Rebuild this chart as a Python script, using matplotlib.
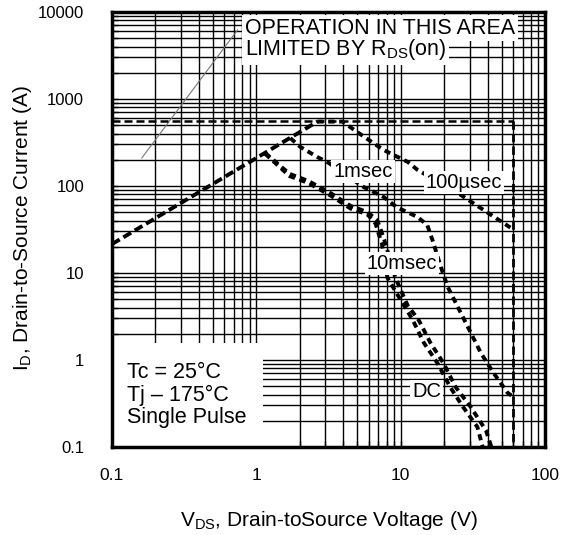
import matplotlib
matplotlib.use("Agg")
import matplotlib.pyplot as plt
from matplotlib.patches import Rectangle

plt.rcParams['font.family'] = ['Liberation Sans', 'DejaVu Sans']
plt.rcParams['mathtext.fontset'] = 'custom'
plt.rcParams['mathtext.rm'] = 'Liberation Sans'
plt.rcParams['mathtext.it'] = 'Liberation Sans'

# ---- data ----
x_ticks = [0.1, 1, 10, 100]
x_tick_labels = ["0.1", "1", "10", "100"]
y_ticks = [0.1, 1, 10, 100, 1000, 10000]
y_tick_labels = ["0.1", "1", "10", "100", "1000", "10000"]

# R_DS(on) limit line
rds_v = [0.1, 2.65]
rds_i = [21.5, 550]
# package / max current limit and breakdown voltage
imax_v = [0.1, 60]
imax_i = [560, 560]
bv_v = [60, 60]
bv_i = [560, 0.1]

us100_v = [2.65, 3.95, 5.0, 7.6, 11.2, 13.1, 24.9, 58, 60]
us100_i = [550, 550, 417, 260, 189, 153, 83, 33, 30]

ms1_v = [1.72, 2.02, 2.65, 3.1, 5.5, 7.6, 9.4, 13.1, 15.3, 16.6, 19, 21.2, 24.9, 29.2, 36, 44, 55, 60]
ms1_i = [355, 281, 215, 189, 98, 75, 57, 44, 35.5, 24, 11.7, 6.9, 4.06, 2.4, 1.2, 0.71, 0.42, 0.38]

ms10_v = [1.15, 1.7, 2.3, 3.3, 4.5, 5.9, 6.9, 7.3, 7.7, 9.2, 11.2, 13.3, 16.1, 19.8, 24, 30.5, 39, 42.5]
ms10_i = [240, 138, 114, 82, 59, 50, 40, 31, 24, 8.8, 4.2, 2.9, 1.57, 0.92, 0.49, 0.29, 0.155, 0.1]

dc_v = [1.15, 1.7, 2.3, 3.3, 4.5, 5.9, 6.7, 7.0, 7.4, 8.1, 10, 12.1, 14.5, 18, 22, 27, 34, 37]
dc_i = [235, 130, 108, 77, 55, 47, 37, 29, 22, 8.8, 4.9, 2.9, 1.57, 0.92, 0.49, 0.29, 0.17, 0.1]

pointer_v = [0.161, 0.74]
pointer_i = [210, 6200]

curve_labels = ["1msec", "100\u00b5sec", "10msec", "DC"]
curve_label_v = [5.5, 27.4, 10.2, 15.1]
curve_label_i = [145, 111, 13.0, 0.43]

cond_lines = ["Tc = 25\u00b0C", "Tj \u2013 175\u00b0C", "Single Pulse"]

# ---- figure ----
fig = plt.figure(figsize=(5.75, 5.35), dpi=100)
ax = fig.add_axes([112/575, 1-447/535, 433/575, 435/535])
ax.set_xscale('log')
ax.set_yscale('log')
ax.set_xlim(0.1, 100)
ax.set_ylim(0.1, 10000)

ax.set_axisbelow(True)
ax.grid(True, which='both', color='black', linewidth=1.0)
ax.set_xticks(x_ticks)
ax.set_xticklabels(x_tick_labels)
ax.set_yticks(y_ticks)
ax.set_yticklabels(y_tick_labels)
ax.tick_params(which='both', direction='in', length=4, width=1, color='black')
ax.tick_params(axis='x', which='major', labelsize=12.5, pad=15)
ax.tick_params(axis='y', which='major', labelsize=12, pad=20)
for s in ax.spines.values():
    s.set_linewidth(2.5)
    s.set_zorder(5)

# white box in lower-left (conditions)
ax.add_patch(Rectangle((0, 0), (263-112)/433, (447-343)/435, transform=ax.transAxes,
                       facecolor='white', edgecolor='none', zorder=1))

# curves
ax.plot(pointer_v, pointer_i, color='#777777', lw=0.8, zorder=2)
ax.plot(imax_v, imax_i, color='black', lw=1.8, dashes=(3.2, 1.6), zorder=3)
ax.plot(bv_v, bv_i, color='black', lw=2.0, dashes=(3.0, 1.5), zorder=3)
ax.plot(rds_v, rds_i, color='black', lw=2.8, dashes=(2.3, 1.1), zorder=3)
for v, i in [(us100_v, us100_i), (ms1_v, ms1_i), (ms10_v, ms10_i), (dc_v, dc_i)]:
    ax.plot(v, i, color='black', lw=2.8, dashes=(1.6, 1.2), zorder=3)

# curve labels
for t, v, i in zip(curve_labels, curve_label_v, curve_label_i):
    ax.text(v, i, t, fontsize=14.5, ha='center', va='center', zorder=4,
            bbox=dict(facecolor='white', edgecolor='none', pad=1.5))

# R_DS(on) area annotation
ax.text((245-112)/433, (447-28)/435, "OPERATION IN THIS AREA", transform=ax.transAxes,
        fontsize=15.5, ha='left', va='center', zorder=4,
        bbox=dict(facecolor='white', edgecolor='none', pad=2))
ax.text((245-112)/433, (447-50)/435, r"LIMITED BY R$_{\mathregular{DS}}$(on)", transform=ax.transAxes,
        fontsize=15.5, ha='left', va='center', zorder=4,
        bbox=dict(facecolor='white', edgecolor='none', pad=2))

# conditions
for k, t in enumerate(cond_lines):
    ax.text((127-112)/433, (447-(372+23*k))/435, t, transform=ax.transAxes,
            fontsize=15.5, ha='left', va='center', zorder=4)

ax.set_xlabel(r"V$_{\mathregular{DS}}$, Drain-toSource Voltage (V)", fontsize=15, va='center')
ax.xaxis.set_label_coords(0.501, (447-521)/435)
ax.set_ylabel(r"I$_{\mathregular{D}}$, Drain-to-Source Current (A)", fontsize=15, va='center')
ax.yaxis.set_label_coords((23-112)/433, (447-228)/435)

fig.savefig("out.png", dpi=100)
